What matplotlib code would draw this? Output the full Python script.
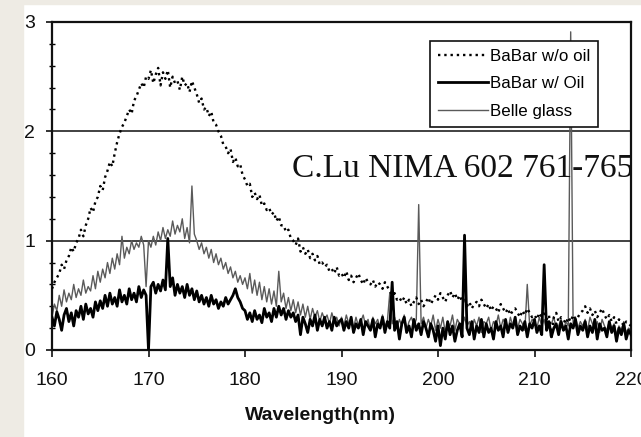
import numpy as np
import matplotlib
matplotlib.use("Agg")
import matplotlib.pyplot as plt
from matplotlib.patches import Rectangle

# wavelength grid, 0.25 nm sampling
wavelength = np.arange(160.0, 220.001, 0.25)

babar_no_oil = [
    0.56, 0.62, 0.66, 0.70, 0.78, 0.74, 0.82, 0.86, 0.94, 0.90, 0.98, 1.02, 1.10, 1.04, 1.14, 1.20, 1.30, 1.26, 1.36, 1.40,
    1.50, 1.46, 1.58, 1.64, 1.72, 1.68, 1.80, 1.90, 1.98, 2.04, 2.08, 2.14, 2.20, 2.16, 2.28, 2.32, 2.38, 2.44, 2.40, 2.50,
    2.48, 2.56, 2.44, 2.52, 2.58, 2.42, 2.54, 2.48, 2.56, 2.40, 2.50, 2.44, 2.46, 2.38, 2.50, 2.42, 2.44, 2.36, 2.46, 2.40,
    2.34, 2.26, 2.30, 2.20, 2.22, 2.14, 2.18, 2.08, 2.06, 2.00, 1.96, 1.88, 1.86, 1.80, 1.84, 1.72, 1.76, 1.68, 1.70, 1.60,
    1.56, 1.50, 1.52, 1.40, 1.44, 1.38, 1.42, 1.32, 1.34, 1.28, 1.30, 1.24, 1.26, 1.18, 1.22, 1.14, 1.14, 1.08, 1.10, 1.02,
    1.00, 0.96, 1.02, 0.90, 0.94, 0.88, 0.92, 0.84, 0.88, 0.82, 0.86, 0.78, 0.80, 0.76, 0.78, 0.72, 0.74, 0.70, 0.76, 0.68,
    0.70, 0.66, 0.72, 0.64, 0.68, 0.62, 0.66, 0.70, 0.64, 0.60, 0.66, 0.62, 0.60, 0.64, 0.58, 0.62, 0.60, 0.56, 0.62, 0.58,
    0.54, 0.50, 0.52, 0.46, 0.48, 0.44, 0.48, 0.42, 0.46, 0.40, 0.44, 0.48, 0.42, 0.46, 0.40, 0.44, 0.48, 0.42, 0.46, 0.50,
    0.46, 0.52, 0.48, 0.44, 0.50, 0.54, 0.48, 0.52, 0.46, 0.50, 0.44, 0.48, 0.40, 0.44, 0.38, 0.42, 0.44, 0.40, 0.46, 0.42,
    0.38, 0.42, 0.36, 0.40, 0.38, 0.34, 0.42, 0.38, 0.34, 0.38, 0.32, 0.36, 0.38, 0.34, 0.30, 0.36, 0.32, 0.38, 0.34, 0.30,
    0.32, 0.28, 0.34, 0.30, 0.36, 0.28, 0.32, 0.10, 0.30, 0.34, 0.26, 0.30, 0.28, 0.24, 0.30, 0.26, 0.32, 0.28, 0.30, 0.34,
    0.36, 0.40, 0.34, 0.38, 0.32, 0.36, 0.30, 0.34, 0.38, 0.32, 0.28, 0.32, 0.26, 0.30, 0.24, 0.28, 0.26, 0.22, 0.26, 0.24, 0.22,
]

babar_oil = [
    0.30, 0.22, 0.35, 0.28, 0.18, 0.32, 0.38, 0.26, 0.34, 0.22, 0.36, 0.30, 0.40, 0.28, 0.42, 0.33, 0.38, 0.30, 0.44, 0.36,
    0.45, 0.38, 0.50, 0.40, 0.52, 0.42, 0.48, 0.40, 0.55, 0.44, 0.50, 0.42, 0.56, 0.46, 0.52, 0.44, 0.58, 0.48, 0.55, 0.50,
    0.00, 0.58, 0.62, 0.52, 0.60, 0.54, 0.64, 0.55, 1.02, 0.58, 0.66, 0.50, 0.60, 0.52, 0.58, 0.48, 0.60, 0.50, 0.56, 0.46,
    0.54, 0.44, 0.50, 0.42, 0.48, 0.40, 0.50, 0.42, 0.46, 0.38, 0.44, 0.40, 0.48, 0.42, 0.46, 0.50, 0.56, 0.48, 0.44, 0.38,
    0.36, 0.28, 0.34, 0.26, 0.36, 0.28, 0.32, 0.25, 0.38, 0.30, 0.34, 0.26, 0.38, 0.30, 0.40, 0.32, 0.38, 0.28, 0.36, 0.30,
    0.34, 0.26, 0.32, 0.14, 0.30, 0.24, 0.16, 0.28, 0.22, 0.32, 0.18, 0.28, 0.22, 0.30, 0.20, 0.26, 0.18, 0.30, 0.22, 0.26,
    0.28, 0.18, 0.26, 0.20, 0.30, 0.16, 0.24, 0.20, 0.28, 0.14, 0.26, 0.22, 0.18, 0.28, 0.12, 0.24, 0.20, 0.30, 0.16, 0.26,
    0.20, 0.62, 0.18, 0.26, 0.10, 0.24, 0.30, 0.16, 0.22, 0.12, 0.28, 0.18, 0.24, 0.14, 0.26, 0.20, 0.12, 0.24, 0.18, 0.08,
    0.22, 0.04, 0.20, 0.10, 0.26, 0.14, 0.22, 0.08, 0.18, 0.24, 0.12, 1.05, 0.20, 0.14, 0.26, 0.10, 0.22, 0.16, 0.28, 0.12,
    0.24, 0.16, 0.20, 0.10, 0.26, 0.18, 0.22, 0.12, 0.28, 0.16, 0.24, 0.20, 0.30, 0.14, 0.22, 0.18, 0.26, 0.12, 0.24, 0.20,
    0.28, 0.16, 0.22, 0.14, 0.78, 0.18, 0.26, 0.12, 0.20, 0.24, 0.14, 0.26, 0.18, 0.22, 0.10, 0.24, 0.20, 0.28, 0.14, 0.22,
    0.18, 0.26, 0.12, 0.22, 0.16, 0.28, 0.10, 0.24, 0.18, 0.20, 0.12, 0.26, 0.16, 0.22, 0.08, 0.20, 0.14, 0.24, 0.10, 0.18, 0.14,
]

belle_glass = [
    0.30, 0.42, 0.36, 0.50, 0.40, 0.55, 0.44, 0.52, 0.46, 0.60, 0.48, 0.56, 0.50, 0.64, 0.52, 0.58, 0.54, 0.68, 0.56, 0.72,
    0.62, 0.74, 0.66, 0.80, 0.70, 0.84, 0.74, 0.88, 0.78, 1.04, 0.84, 0.94, 0.88, 1.00, 0.92, 0.98, 0.94, 1.04, 0.96, 0.58,
    1.00, 0.94, 1.04, 0.96, 1.08, 1.00, 1.12, 1.02, 1.10, 1.04, 1.18, 1.06, 1.14, 1.08, 1.20, 1.02, 1.12, 0.98, 1.50, 1.06,
    1.00, 0.92, 0.98, 0.88, 0.94, 0.84, 0.92, 0.80, 0.88, 0.78, 0.84, 0.74, 0.80, 0.70, 0.76, 0.66, 0.72, 0.62, 0.68, 0.60,
    0.66, 0.56, 0.70, 0.52, 0.64, 0.50, 0.62, 0.46, 0.58, 0.44, 0.56, 0.42, 0.54, 0.40, 0.72, 0.44, 0.52, 0.38, 0.48, 0.36,
    0.46, 0.34, 0.44, 0.32, 0.42, 0.30, 0.40, 0.28, 0.38, 0.30, 0.36, 0.26, 0.34, 0.28, 0.32, 0.24, 0.34, 0.26, 0.30, 0.22,
    0.30, 0.22, 0.32, 0.24, 0.28, 0.20, 0.30, 0.22, 0.26, 0.32, 0.22, 0.28, 0.18, 0.30, 0.24, 0.28, 0.20, 0.32, 0.22, 0.26,
    0.52, 0.24, 0.30, 0.20, 0.28, 0.22, 0.32, 0.18, 0.26, 0.30, 0.22, 0.28, 1.33, 0.24, 0.30, 0.20, 0.28, 0.22, 0.32, 0.18,
    0.28, 0.20, 0.30, 0.16, 0.26, 0.22, 0.32, 0.18, 0.28, 0.24, 0.20, 0.30, 0.22, 0.26, 0.18, 0.28, 0.22, 0.30, 0.16, 0.26,
    0.24, 0.30, 0.18, 0.26, 0.22, 0.32, 0.20, 0.28, 0.24, 0.18, 0.30, 0.22, 0.26, 0.20, 0.28, 0.24, 0.18, 0.60, 0.22, 0.28,
    0.26, 0.20, 0.30, 0.22, 0.28, 0.18, 0.26, 0.24, 0.30, 0.20, 0.22, 0.28, 0.18, 0.26, 0.22, 2.91, 0.24, 0.30, 0.20, 0.26,
    0.22, 0.28, 0.18, 0.30, 0.24, 0.20, 0.26, 0.16, 0.28, 0.22, 0.18, 0.26, 0.20, 0.24, 0.14, 0.22, 0.18, 0.26, 0.16, 0.20, 0.18,
]

series_labels = ["BaBar w/o oil", "BaBar w/ Oil", "Belle glass"]
x_ticks = [160, 170, 180, 190, 200, 210, 220]
y_ticks = [0, 1, 2, 3]

plt.rcParams["font.family"] = ["Liberation Sans", "DejaVu Sans"]

W, H = 641, 437
fig = plt.figure(figsize=(W / 100, H / 100), dpi=100, facecolor="white")
# beige page margins on the left and top
beige = "#eeebe4"
fig.patches.append(Rectangle((0, 0), 23 / W, 1, transform=fig.transFigure, color=beige, zorder=0))
fig.patches.append(Rectangle((0, 1 - 4 / H), 1, 4 / H, transform=fig.transFigure, color=beige, zorder=0))

ax = fig.add_axes([52 / W, 1 - 350 / H, (631 - 52) / W, (350 - 22) / H])

for yv in [1, 2]:
    ax.axhline(yv, color="#333333", lw=1.3, zorder=1)

ax.plot(wavelength, babar_no_oil, ls=":", color="black", lw=1.7, label=series_labels[0], zorder=3)
ax.plot(wavelength, babar_oil, ls="-", color="black", lw=2.0, label=series_labels[1], zorder=4)
ax.plot(wavelength, belle_glass, ls="-", color="#5a5a5a", lw=1.0, label=series_labels[2], zorder=2)

ax.set_xlim(160, 220)
ax.set_ylim(0, 3)
ax.set_xticks(x_ticks)
ax.set_yticks(y_ticks)
ax.set_yticks(np.arange(0, 3.01, 0.2), minor=True)
ax.tick_params(axis="x", direction="out", length=5, width=1.2, pad=10.5, labelsize=14, colors="#111111")
ax.tick_params(axis="y", which="major", direction="out", length=4, width=1.2, pad=8, labelsize=14, colors="#111111")
ax.tick_params(axis="y", which="minor", direction="inout", length=5, width=1.0)
for s in ax.spines.values():
    s.set_linewidth(1.6)
    s.set_color("#111111")

leg = ax.legend(loc="upper left", bbox_to_anchor=((430 - 52) / 579, (350 - 41) / 328),
                frameon=True, fancybox=False, framealpha=1, edgecolor="#111111",
                fontsize=12.2, handlelength=3.0, handletextpad=0.1, labelspacing=0.75,
                borderpad=0.45, borderaxespad=0)
leg.get_frame().set_linewidth(1.2)
leg.set_zorder(10)

ax.text((292 - 52) / 579, (350 - 177) / 328, "C.Lu NIMA 602 761-765", transform=ax.transAxes,
        family="Liberation Serif", fontsize=24, va="baseline", ha="left", color="#111111", zorder=11)

fig.text(320 / W, 1 - 416 / H, "Wavelength(nm)", ha="center", va="center",
         fontsize=14, fontweight="bold", color="#111111")

fig.savefig("out.png", dpi=100)
